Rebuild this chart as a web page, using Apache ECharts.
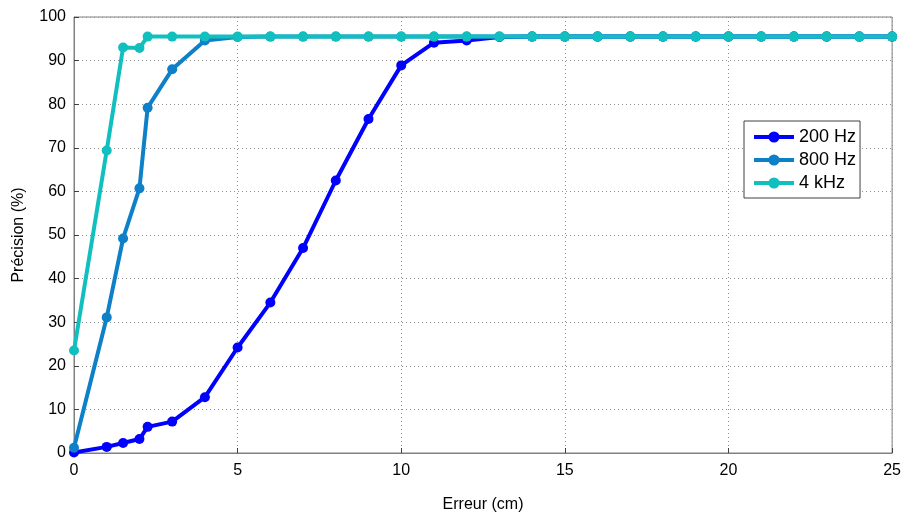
<!DOCTYPE html>
<html>
<head>
<meta charset="utf-8">
<script src="https://cdn.jsdelivr.net/npm/echarts@6/dist/echarts.min.js"></script>
<style>html,body{margin:0;padding:0;background:#fff}#c{width:904px;height:518px}</style>
</head>
<body>
<div id="c"></div>
<script>
var seriesNames = ['200 Hz', '800 Hz', '4 kHz'];
var x200 = [0, 1, 1.5, 2, 2.25, 3, 4, 5, 6, 7, 8, 9, 10, 11, 12, 13, 14, 15, 16, 17, 18, 19, 20, 21, 22, 23, 24, 25];
var y200 = [0.1, 1.4, 2.3, 3.2, 6.0, 7.2, 12.8, 24.2, 34.5, 47.0, 62.5, 76.6, 88.9, 94.1, 94.6, 95.4, 95.5, 95.5, 95.5, 95.5, 95.5, 95.5, 95.5, 95.5, 95.5, 95.5, 95.5, 95.5];
var x800 = [0, 1, 1.5, 2, 2.25, 3, 4, 5, 6, 7, 8, 9, 10, 11, 12, 13, 14, 15, 16, 17, 18, 19, 20, 21, 22, 23, 24, 25];
var y800 = [1.2, 31.1, 49.2, 60.7, 79.2, 88.0, 94.6, 95.4, 95.5, 95.5, 95.5, 95.5, 95.5, 95.5, 95.5, 95.5, 95.5, 95.5, 95.5, 95.5, 95.5, 95.5, 95.5, 95.5, 95.5, 95.5, 95.5, 95.5];
var x4k = [0, 1, 1.5, 2, 2.25, 3, 4, 5, 6, 7, 8, 9, 10, 11, 12, 13, 14, 15, 16, 17, 18, 19, 20, 21, 22, 23, 24, 25];
var y4k = [23.5, 69.4, 93.0, 92.9, 95.5, 95.5, 95.5, 95.5, 95.5, 95.5, 95.5, 95.5, 95.5, 95.5, 95.5, 95.5, 95.5, 95.5, 95.5, 95.5, 95.5, 95.5, 95.5, 95.5, 95.5, 95.5, 95.5, 95.5];
var colors = ['#0000ff', '#0d80c8', '#12bfbf'];

function pairs(xs, ys) { return xs.map(function (x, i) { return [x, ys[i]]; }); }
var allX = [x200, x800, x4k], allY = [y200, y800, y4k];

var chart = echarts.init(document.getElementById('c'), null, { renderer: 'canvas' });
var font = 'Liberation Sans, Arial, sans-serif';
var series = seriesNames.map(function (n, i) {
  return {
    name: n, type: 'line', data: pairs(allX[i], allY[i]),
    symbol: 'circle', symbolSize: 10, showSymbol: true,
    lineStyle: { width: 4, color: colors[i] },
    itemStyle: { color: colors[i] },
    emphasis: { disabled: true }, animation: false, z: 2 + i
  };
});
chart.setOption({
  animation: false,
  grid: { left: 74, right: 11, top: 17, bottom: 64, show: true, borderColor: '#808080', borderWidth: 1 },
  legend: {
    show: true, orient: 'vertical', left: 744, top: 121,
    backgroundColor: '#fff', borderColor: '#404040', borderWidth: 1,
    padding: [7, 4, 6, 8], itemWidth: 40, itemHeight: 14, itemGap: 5,
    lineStyle: { width: 4 },
    textStyle: { fontFamily: font, fontSize: 18, color: '#000', padding: [0, 0, 0, 0] },
    data: seriesNames
  },
  xAxis: {
    type: 'value', min: 0, max: 25, interval: 5,
    name: 'Erreur (cm)', nameLocation: 'middle', nameGap: 44,
    nameTextStyle: { fontFamily: font, fontSize: 16, color: '#000' },
    axisLine: { show: true, lineStyle: { color: '#808080', width: 1 } },
    axisTick: { show: true, inside: true, length: 5, lineStyle: { color: '#404040' } },
    axisLabel: { fontFamily: font, fontSize: 16, color: '#000', margin: 10 },
    splitLine: { show: true, lineStyle: { color: '#909090', type: [1, 3], width: 1 } }
  },
  yAxis: {
    type: 'value', min: 0, max: 100, interval: 10,
    name: 'Précision (%)', nameLocation: 'middle', nameGap: 47, nameRotate: 90,
    nameTextStyle: { fontFamily: font, fontSize: 16, color: '#000' },
    axisLine: { show: true, lineStyle: { color: '#808080', width: 1 } },
    axisTick: { show: true, inside: true, length: 5, lineStyle: { color: '#404040' } },
    axisLabel: { fontFamily: font, fontSize: 16, color: '#000', margin: 8 },
    splitLine: { show: true, lineStyle: { color: '#909090', type: [1, 3], width: 1 } }
  },
  series: series
});
</script>
</body>
</html>
